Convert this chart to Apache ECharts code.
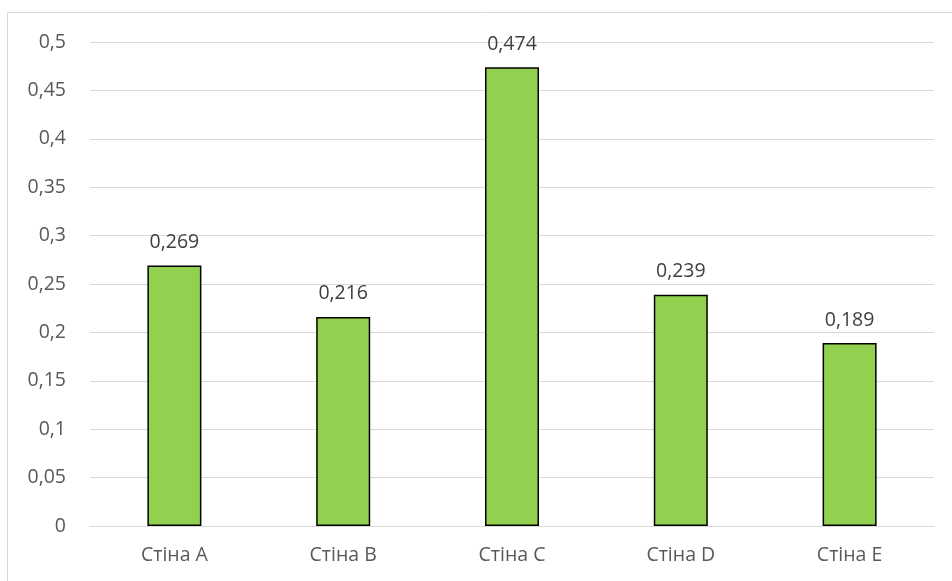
<!DOCTYPE html>
<html>
<head>
<meta charset="utf-8">
<script src="https://cdn.jsdelivr.net/npm/echarts@6/dist/echarts.min.js"></script>
<style>
  html, body { margin: 0; padding: 0; background: #fff; }
  #chart { width: 952px; height: 581px; }
</style>
</head>
<body>
<div id="chart"></div>
<script>
// Wall categories and their values
const categories = ['Стіна A', 'Стіна B', 'Стіна C', 'Стіна D', 'Стіна E'];
const values = [0.269, 0.216, 0.474, 0.239, 0.189];

const fmt = v => String(v).replace('.', ',');
const font = '"Open Sans", "Noto Sans", sans-serif';

const chart = echarts.init(document.getElementById('chart'), null, { renderer: 'canvas' });
chart.setOption({
  animation: false,
  backgroundColor: '#ffffff',
  graphic: [{
    type: 'rect',
    shape: { x: 7.5, y: 12.5, width: 960, height: 600 },
    style: { fill: 'none', stroke: '#d9d9d9', lineWidth: 1 },
    silent: true
  }],
  grid: { left: 90, right: 18, top: 42, bottom: 55 },
  xAxis: {
    type: 'category',
    data: categories,
    axisLine: { lineStyle: { color: '#d9d9d9', width: 1 } },
    axisTick: { show: false },
    axisLabel: { color: '#595959', fontSize: 19.5, fontFamily: font, margin: 19 }
  },
  yAxis: {
    type: 'value',
    min: 0,
    max: 0.5,
    interval: 0.05,
    axisLine: { show: false },
    axisTick: { show: false },
    splitLine: { lineStyle: { color: '#d9d9d9', width: 1 } },
    axisLabel: {
      color: '#595959', fontSize: 19.5, fontFamily: font, margin: 24,
      formatter: v => fmt(Math.round(v * 100) / 100)
    }
  },
  series: [{
    type: 'bar',
    data: values,
    barWidth: '32%',
    itemStyle: { color: '#92d050', borderColor: '#000000', borderWidth: 1.5 },
    label: {
      show: true,
      position: 'top',
      distance: 13,
      color: '#404040',
      fontSize: 19.5,
      fontFamily: font,
      formatter: p => fmt(p.value)
    }
  }]
});
</script>
</body>
</html>
